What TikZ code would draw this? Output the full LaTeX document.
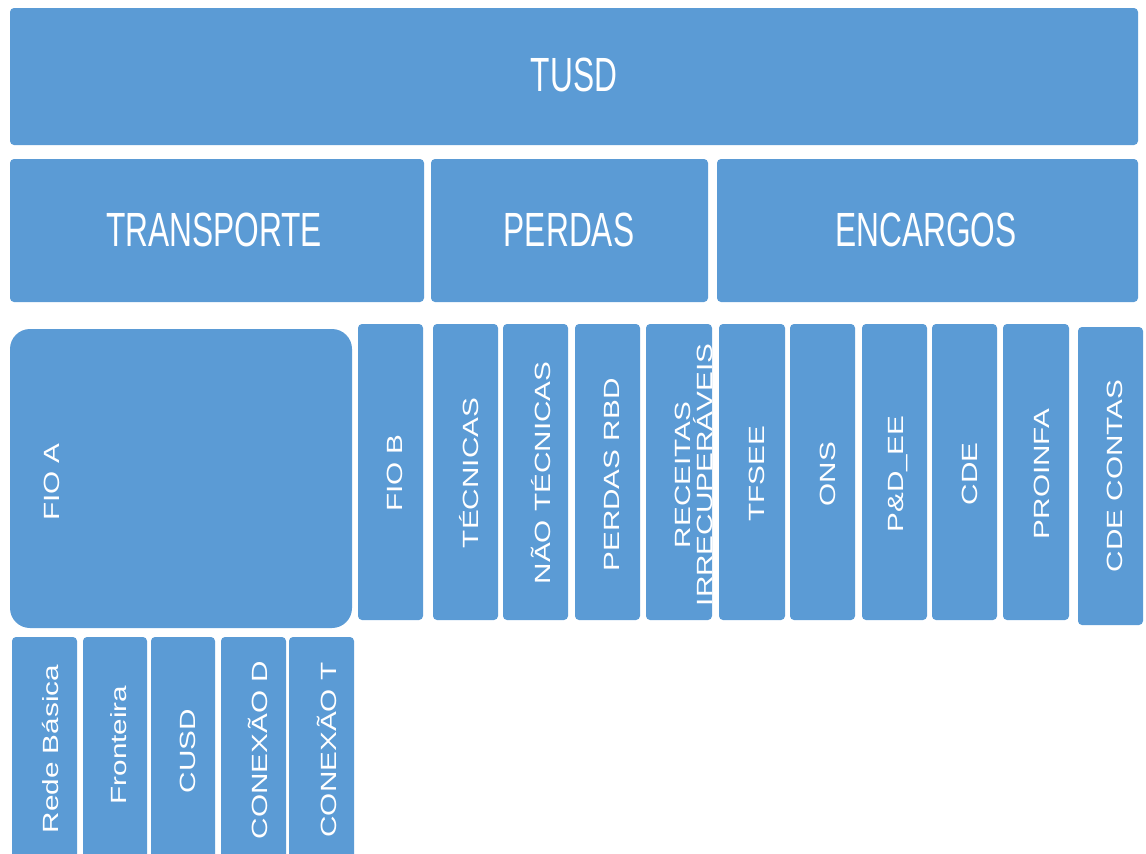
\documentclass[tikz,border=0pt]{standalone}
\usepackage{fontspec}
\setmainfont{Liberation Sans}
\usepackage{graphicx}
\definecolor{boxblue}{HTML}{5B9BD5}
\newcommand{\sx}[1]{\scalebox{1.35}[1]{#1}}
\newcommand{\hx}[1]{\scalebox{0.66}[1]{#1}}
\begin{document}
\begin{tikzpicture}[x=1pt,y=-1pt,
  box/.style={fill=boxblue, draw=none, rounded corners=4pt, anchor=north west, inner sep=0pt, outer sep=0pt, minimum height=296pt},
  htext/.style={text=white, font=\fontsize{48}{48}\selectfont, inner sep=0pt},
  vtext/.style={text=white, font=\fontsize{22}{22}\selectfont, rotate=90, inner sep=0pt, align=center}]
\useasboundingbox (0,0) rectangle (1146,854);
\clip (0,0) rectangle (1146,854);
% headers
\node[box, minimum width=1128pt, minimum height=137pt] (tusd) at (10,8) {};
\node[htext] (tusdt) at (574,75) {\hx{TUSD}};
\node[box, minimum width=414pt, minimum height=143pt] (transp) at (10,159) {};
\node[htext] (transpt) at (214,230) {\hx{TRANSPORTE}};
\node[box, minimum width=277pt, minimum height=143pt] (perdas) at (431,159) {};
\node[htext] (perdast) at (569,230) {\hx{PERDAS}};
\node[box, minimum width=421pt, minimum height=143pt] (encargos) at (717,159) {};
\node[htext] (encargost) at (926,230) {\hx{ENCARGOS}};
% middle row
\node[box, rounded corners=20pt, minimum width=342pt, minimum height=299pt] (fioa) at (10,329) {};
\node[vtext] (fioat) at (52,482) {\sx{FIO A}};
\node[box, minimum width=65pt] (fiob) at (358,324) {};
\node[vtext] (fiobt) at (395,473) {\sx{FIO B}};
\node[box, minimum width=65pt] (tec) at (433,324) {};
\node[vtext] (tect) at (469,473) {\sx{TÉCNICAS}};
\node[box, minimum width=65pt] (ntec) at (503,324) {};
\node[vtext] (ntect) at (541,473) {\sx{NÃO TÉCNICAS}};
\node[box, minimum width=65pt] (rbd) at (575,324) {};
\node[vtext] (rbdt) at (612,475) {\sx{PERDAS RBD}};
\node[box, minimum width=66pt] (rec) at (646,324) {};
\node[vtext] (rect) at (694,475) {\sx{RECEITAS}\\\sx{IRRECUPERÁVEIS}};
\node[box, minimum width=66pt] (tfsee) at (719,324) {};
\node[vtext] (tfseet) at (757,474) {\sx{TFSEE}};
\node[box, minimum width=65pt] (ons) at (790,324) {};
\node[vtext] (onst) at (828,474) {\sx{ONS}};
\node[box, minimum width=65pt] (pd) at (862,324) {};
\node[vtext] (pdt) at (898,474) {\sx{P\&D\_EE}};
\node[box, minimum width=65pt] (cde) at (932,324) {};
\node[vtext] (cdet) at (970,474) {\sx{CDE}};
\node[box, minimum width=66pt] (proinfa) at (1003,324) {};
\node[vtext] (proinfat) at (1042,474) {\sx{PROINFA}};
\node[box, minimum width=65pt, minimum height=298pt] (cdec) at (1078,327) {};
\node[vtext] (cdect) at (1115,476) {\sx{CDE CONTAS}};
% bottom row
\node[box, minimum width=65pt, minimum height=240pt] (rb) at (12,637) {};
\node[vtext] (rbt) at (51,749) {\sx{Rede Básica}};
\node[box, minimum width=64pt, minimum height=240pt] (fr) at (83,637) {};
\node[vtext] (frt) at (119,745) {\sx{Fronteira}};
\node[box, minimum width=64pt, minimum height=240pt] (cusd) at (151,637) {};
\node[vtext] (cusdt) at (188,751) {\sx{CUSD}};
\node[box, minimum width=65pt, minimum height=240pt] (cd) at (221,637) {};
\node[vtext] (cdt) at (258,750) {\sx{CONEXÃO D}};
\node[box, minimum width=65pt, minimum height=240pt] (ct) at (289,637) {};
\node[vtext] (ctt) at (327,750) {\sx{CONEXÃO T}};
\end{tikzpicture}
\end{document}
